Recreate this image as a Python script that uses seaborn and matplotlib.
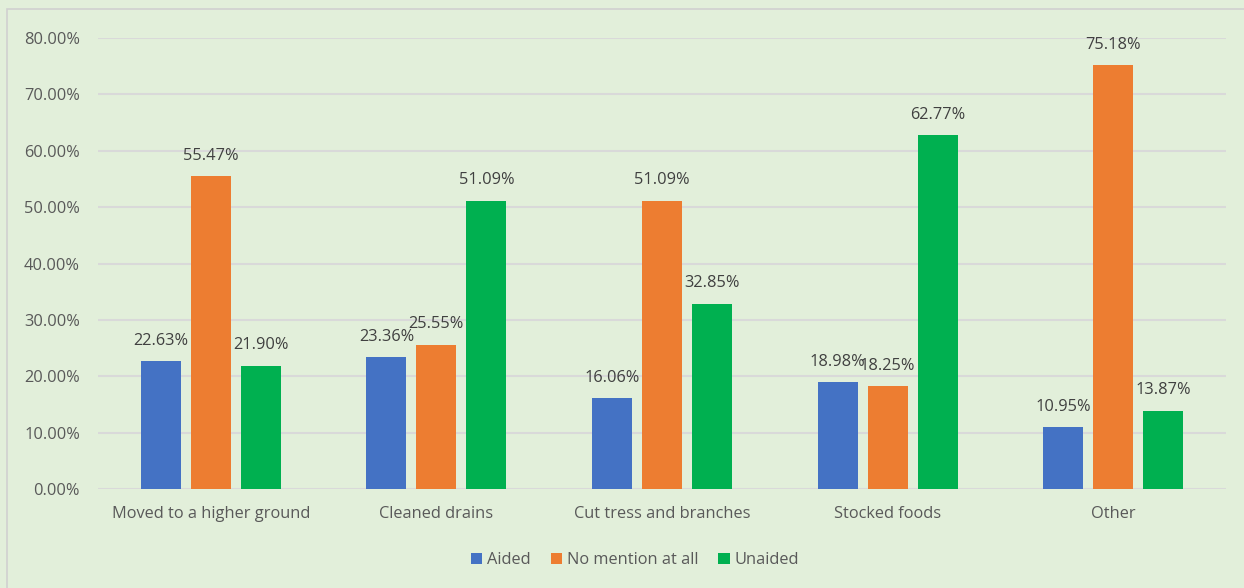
import matplotlib
matplotlib.use("Agg")
import matplotlib.pyplot as plt
from matplotlib.patches import Rectangle, Patch
from matplotlib.ticker import PercentFormatter
import seaborn as sns
import pandas as pd

categories = ["Moved to a higher ground", "Cleaned drains", "Cut tress and branches",
              "Stocked foods", "Other"]
series = ["Aided", "No mention at all", "Unaided"]
aided = [22.63, 23.36, 16.06, 18.98, 10.95]
no_mention = [55.47, 25.55, 51.09, 18.25, 75.18]
unaided = [21.90, 51.09, 32.85, 62.77, 13.87]
y_ticks = [0, 10, 20, 30, 40, 50, 60, 70, 80]

colors = ["#4472C4", "#ED7D31", "#00B050"]
bg = "#E2EFDA"
text_color = "#595959"

rows = []
for name, vals in zip(series, [aided, no_mention, unaided]):
    for cat, v in zip(categories, vals):
        rows.append({"category": cat, "series": name, "value": v})
df = pd.DataFrame(rows)

sns.set_theme(style="white")
plt.rcParams["font.family"] = ["Open Sans", "DejaVu Sans"]

fig = plt.figure(figsize=(12.44, 5.88), dpi=100, facecolor=bg)
ax = fig.add_axes([98 / 1244, 1 - 489 / 588, (1226 - 98) / 1244, (489 - 38) / 588])
ax.set_facecolor(bg)

sns.barplot(data=df, x="category", y="value", hue="series", order=categories,
            hue_order=series, palette=colors, width=0.665, gap=0.2,
            saturation=1, linewidth=0, ax=ax, legend=False, zorder=3)

for container in ax.containers:
    labels = [f"{b.get_height():.2f}%" for b in container]
    ax.bar_label(container, labels=labels, padding=9, fontsize=11.8, color="#404040")

ax.set_ylim(0, 80)
ax.set_xlim(-0.5, 4.5)
ax.set_yticks(y_ticks)
ax.yaxis.set_major_formatter(PercentFormatter(decimals=2))
ax.grid(axis="y", color="#D9D9D9", linewidth=1.5, zorder=0)
ax.set_axisbelow(True)
for s in ax.spines.values():
    s.set_visible(False)
ax.tick_params(axis="both", length=0, labelsize=11.8, labelcolor=text_color)
ax.tick_params(axis="y", pad=13)
ax.tick_params(axis="x", pad=12)
ax.set_xlabel("")
ax.set_ylabel("")

handles = [Patch(facecolor=c, edgecolor="none") for c in colors]
fig.legend(handles, series, loc="center", bbox_to_anchor=(635 / 1244, 1 - 560 / 588),
           ncol=3, frameon=False, fontsize=11.8, labelcolor=text_color,
           handlelength=0.7, handleheight=0.7, handletextpad=0.3, columnspacing=1.2)

fig.add_artist(Rectangle((7 / 1244, -0.01), 1.02, 1 - 9 / 588 + 0.01,
                         transform=fig.transFigure, fill=False,
                         edgecolor="#D0D0D0", linewidth=1.2))

fig.savefig("out.png", dpi=100, facecolor=bg)
